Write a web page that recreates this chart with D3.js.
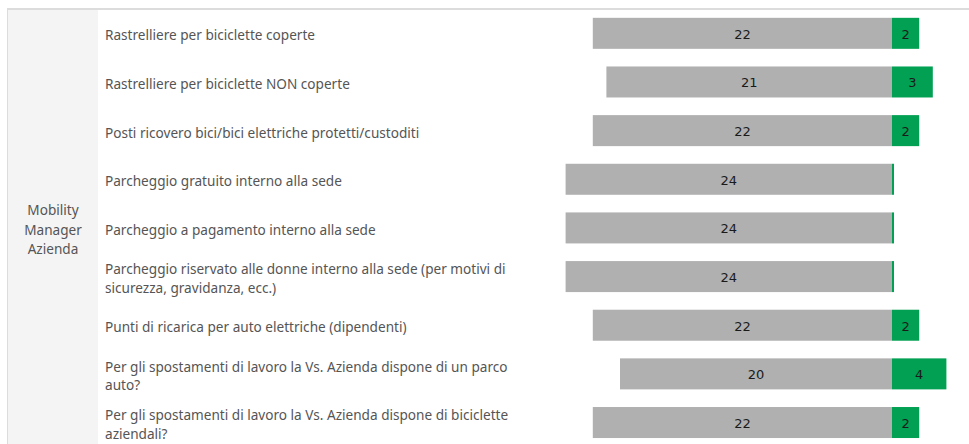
<!DOCTYPE html>
<html>
<head>
<meta charset="utf-8">
<script src="https://cdn.jsdelivr.net/npm/d3@7"></script>
<style>
  html, body { margin: 0; padding: 0; background: #fff; }
  svg { display: block; }
</style>
</head>
<body>
<svg id="chart" width="969" height="444"></svg>
<script>
const groupLabel = ["Mobility", "Manager", "Azienda"];
const categories = [
  "Rastrelliere per biciclette coperte",
  "Rastrelliere per biciclette NON coperte",
  "Posti ricovero bici/bici elettriche protetti/custoditi",
  "Parcheggio gratuito interno alla sede",
  "Parcheggio a pagamento interno alla sede",
  "Parcheggio riservato alle donne interno alla sede (per motivi di sicurezza, gravidanza, ecc.)",
  "Punti di ricarica per auto elettriche (dipendenti)",
  "Per gli spostamenti di lavoro la Vs. Azienda dispone di un parco auto?",
  "Per gli spostamenti di lavoro la Vs. Azienda dispone di biciclette aziendali?"
];
const noValues  = [22, 21, 22, 24, 24, 24, 22, 20, 22];
const yesValues = [2, 3, 2, 0, 0, 0, 2, 4, 2];

(function () {
const svg = d3.select("#chart");
const W = 969, H = 444;
const topY = 9;
const step = 48.65;
const barH = 31;
const fs = 13.6;

const x = d3.scaleLinear().domain([-24, 4]).range([565.6, 946.4]);
const y = d3.scaleBand().domain(categories).range([topY, topY + step * categories.length]).padding(0);

// left panel
svg.append("rect").attr("x", 8).attr("y", topY + 1).attr("width", 90).attr("height", H - topY)
  .attr("fill", "#f4f4f4");
svg.append("line").attr("x1", 7.5).attr("x2", 7.5).attr("y1", topY).attr("y2", H)
  .attr("stroke", "#dcdcdc").attr("stroke-width", 1);
svg.append("line").attr("x1", 7).attr("x2", W).attr("y1", topY).attr("y2", topY)
  .attr("stroke", "#dcdcdc").attr("stroke-width", 2);

const midY = topY + step * categories.length / 2;
svg.append("text")
  .attr("text-anchor", "middle")
  .attr("font-family", "Noto Sans").attr("font-size", fs).attr("fill", "#555")
  .selectAll("tspan").data(groupLabel).join("tspan")
  .attr("x", 53)
  .attr("y", (d, i) => midY + 7 + (i - 1) * 19.5)
  .text(d => d);

// row labels with wrapping
const ctx = document.createElement("canvas").getContext("2d");
ctx.font = fs + "px 'Noto Sans'";
function wrap(text, maxW) {
  const words = text.split(" ");
  const lines = [];
  let cur = "";
  words.forEach(w => {
    const t = cur ? cur + " " + w : w;
    if (ctx.measureText(t).width > maxW && cur) { lines.push(cur); cur = w; }
    else cur = t;
  });
  if (cur) lines.push(cur);
  return lines;
}
const rows = svg.append("g");
categories.forEach((c) => {
  const lines = wrap(c, 418);
  const cy = y(c) + y.bandwidth() / 2;
  const t = rows.append("text")
    .attr("font-family", "Noto Sans").attr("font-size", fs).attr("fill", "#555");
  lines.forEach((l, j) => {
    t.append("tspan").attr("x", 105)
      .attr("y", cy + 7 + (j - (lines.length - 1) / 2) * 18.7)
      .text(l);
  });
});

const data = categories.map((c, i) => ({ cat: c, no: noValues[i], yes: yesValues[i] }));

svg.append("g").selectAll("rect").data(data).join("rect")
  .attr("x", d => x(-d.no))
  .attr("width", d => x(0) - x(-d.no))
  .attr("y", d => y(d.cat) + (y.bandwidth() - barH) / 2)
  .attr("height", barH)
  .attr("fill", "#b0b0b0");

svg.append("g").selectAll("rect").data(data).join("rect")
  .attr("x", x(0))
  .attr("width", d => Math.max(2, x(d.yes) - x(0)))
  .attr("y", d => y(d.cat) + (y.bandwidth() - barH) / 2)
  .attr("height", barH)
  .attr("fill", "#01a052");

svg.append("g").selectAll("text").data(data).join("text")
  .attr("x", d => (x(-d.no) + x(0)) / 2)
  .attr("y", d => y(d.cat) + y.bandwidth() / 2 + 5.5)
  .attr("text-anchor", "middle")
  .attr("font-family", "DejaVu Sans").attr("font-size", 13).attr("fill", "#1a1a1a")
  .text(d => d.no);
svg.append("g").selectAll("text").data(data.filter(d => d.yes > 0)).join("text")
  .attr("x", d => (x(d.yes) + x(0)) / 2)
  .attr("y", d => y(d.cat) + y.bandwidth() / 2 + 5.5)
  .attr("text-anchor", "middle")
  .attr("font-family", "DejaVu Sans").attr("font-size", 13).attr("fill", "#1a1a1a")
  .text(d => d.yes);
})();
</script>
</body>
</html>
